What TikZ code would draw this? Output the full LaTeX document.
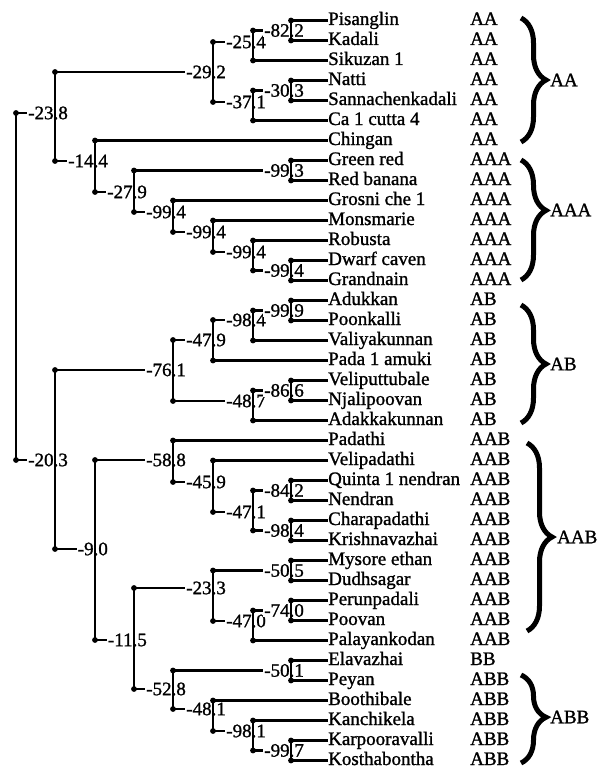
\documentclass[tikz,border=0pt]{standalone}
\usepackage{fontspec}
\setmainfont{Liberation Serif}
\newfontfamily\trserif{Liberation Serif}[FakeBold=1.2]
\usetikzlibrary{decorations.pathreplacing}
\newcommand{\TRnode}[4]{\coordinate (#1-t) at (#2,#3); \coordinate (#1-b) at (#2,#4);}
\newcommand{\TRlab}[4]{\node[lbl] (#1-l) at (#2 -| #1-t) {-#3\rlap{.#4}};}
\newcommand{\TRh}[2]{\draw[ln] (#1) -- (#1 -| #2-t);}
\newcommand{\TRleaf}[2]{\draw[ln] (#1) -- (#1 -| #2.west);}
\newcommand{\TRv}[1]{\draw[ln] (#1-t) -- (#1-b); \fill (#1-t) circle (2.9pt); \fill (#1-b) circle (2.9pt);}
\newcommand{\TRtip}[4]{\node[leaf] (#1) at (328,#2+4.5) {#3}; \node[geno] (#1-g) at (470,#2+4.5) {#4};}
\begin{document}
\begin{tikzpicture}[x=1pt,y=-1pt,
  txt/.style={font=\trserif\fontsize{19}{20}\selectfont},
  ln/.style={line width=2.7pt},
  lbl/.style={txt, anchor=east, inner xsep=1.2pt, inner ysep=0pt, fill=white},
  leaf/.style={txt, anchor=base west, inner sep=0pt},
  geno/.style={txt, anchor=base west, inner sep=0pt},
  grp/.style={txt, anchor=west, inner sep=0pt},
  brc/.style={line width=5pt, decorate}]
\fill[white] (0,0) rectangle (597,768);
\useasboundingbox (0,0) rectangle (597,768);
% internal nodes: name, x, ytop, ybottom
\TRnode{R}{16}{113}{460}
\TRnode{N238}{55}{72}{161}
\TRnode{N292}{213}{42}{102}
\TRnode{N254}{253}{30.5}{60.5}
\TRnode{N822}{291}{20.5}{40.5}
\TRnode{N371}{253}{90.5}{120.5}
\TRnode{N303}{291}{80.5}{100.5}
\TRnode{N144}{95}{140.5}{192}
\TRnode{N279}{134}{170.5}{212}
\TRnode{N993}{291}{160.5}{180.5}
\TRnode{N994a}{173}{200.5}{232}
\TRnode{N994b}{213}{220.5}{252}
\TRnode{N994c}{253}{240.5}{270.5}
\TRnode{N994d}{291}{260.5}{280.5}
\TRnode{N203}{55}{370}{549}
\TRnode{N761}{173}{340}{401}
\TRnode{N479}{213}{320}{360.5}
\TRnode{N984a}{253}{310.5}{340.5}
\TRnode{N999}{291}{300.5}{320.5}
\TRnode{N487}{253}{390.5}{420.5}
\TRnode{N866}{291}{380.5}{400.5}
\TRnode{N90}{95}{460}{640}
\TRnode{N588}{173}{440.5}{482}
\TRnode{N459}{213}{460.5}{512}
\TRnode{N471}{253}{490.5}{530.5}
\TRnode{N842}{291}{480.5}{500.5}
\TRnode{N984b}{291}{520.5}{540.5}
\TRnode{N115}{134}{588}{689}
\TRnode{N233}{213}{570.5}{621}
\TRnode{N505}{291}{560.5}{580.5}
\TRnode{N470}{253}{610.5}{640.5}
\TRnode{N740}{291}{600.5}{620.5}
\TRnode{N528}{173}{670.5}{709}
\TRnode{N501}{291}{660.5}{680.5}
\TRnode{N481}{213}{700.5}{731}
\TRnode{N981}{253}{720.5}{750.5}
\TRnode{N997}{291}{740.5}{760.5}
% leaves
\TRtip{L1}{20.5}{Pisanglin}{AA}
\TRtip{L2}{40.5}{Kadali}{AA}
\TRtip{L3}{60.5}{Sikuzan 1}{AA}
\TRtip{L4}{80.5}{Natti}{AA}
\TRtip{L5}{100.5}{Sannachenkadali}{AA}
\TRtip{L6}{120.5}{Ca 1 cutta 4}{AA}
\TRtip{L7}{140.5}{Chingan}{AA}
\TRtip{L8}{160.5}{Green red}{AAA}
\TRtip{L9}{180.5}{Red banana}{AAA}
\TRtip{L10}{200.5}{Grosni che 1}{AAA}
\TRtip{L11}{220.5}{Monsmarie}{AAA}
\TRtip{L12}{240.5}{Robusta}{AAA}
\TRtip{L13}{260.5}{Dwarf caven}{AAA}
\TRtip{L14}{280.5}{Grandnain}{AAA}
\TRtip{L15}{300.5}{Adukkan}{AB}
\TRtip{L16}{320.5}{Poonkalli}{AB}
\TRtip{L17}{340.5}{Valiyakunnan}{AB}
\TRtip{L18}{360.5}{Pada 1 amuki}{AB}
\TRtip{L19}{380.5}{Veliputtubale}{AB}
\TRtip{L20}{400.5}{Njalipoovan}{AB}
\TRtip{L21}{420.5}{Adakkakunnan}{AB}
\TRtip{L22}{440.5}{Padathi}{AAB}
\TRtip{L23}{460.5}{Velipadathi}{AAB}
\TRtip{L24}{480.5}{Quinta 1 nendran}{AAB}
\TRtip{L25}{500.5}{Nendran}{AAB}
\TRtip{L26}{520.5}{Charapadathi}{AAB}
\TRtip{L27}{540.5}{Krishnavazhai}{AAB}
\TRtip{L28}{560.5}{Mysore ethan}{AAB}
\TRtip{L29}{580.5}{Dudhsagar}{AAB}
\TRtip{L30}{600.5}{Perunpadali}{AAB}
\TRtip{L31}{620.5}{Poovan}{AAB}
\TRtip{L32}{640.5}{Palayankodan}{AAB}
\TRtip{L33}{660.5}{Elavazhai}{BB}
\TRtip{L34}{680.5}{Peyan}{ABB}
\TRtip{L35}{700.5}{Boothibale}{ABB}
\TRtip{L36}{720.5}{Kanchikela}{ABB}
\TRtip{L37}{740.5}{Karpooravalli}{ABB}
\TRtip{L38}{760.5}{Kosthabontha}{ABB}
% horizontal connectors to internal children
\TRh{R-t}{N238} \TRh{R-b}{N203}
\TRh{N238-t}{N292} \TRh{N238-b}{N144}
\TRh{N292-t}{N254} \TRh{N292-b}{N371}
\TRh{N254-t}{N822} \TRh{N371-t}{N303}
\TRh{N144-b}{N279} \TRh{N279-t}{N993} \TRh{N279-b}{N994a}
\TRh{N994a-b}{N994b} \TRh{N994b-b}{N994c} \TRh{N994c-b}{N994d}
\TRh{N203-t}{N761} \TRh{N203-b}{N90}
\TRh{N761-t}{N479} \TRh{N761-b}{N487}
\TRh{N479-t}{N984a} \TRh{N984a-t}{N999} \TRh{N487-t}{N866}
\TRh{N90-t}{N588} \TRh{N90-b}{N115}
\TRh{N588-b}{N459} \TRh{N459-b}{N471}
\TRh{N471-t}{N842} \TRh{N471-b}{N984b}
\TRh{N115-t}{N233} \TRh{N115-b}{N528}
\TRh{N233-t}{N505} \TRh{N233-b}{N470} \TRh{N470-t}{N740}
\TRh{N528-t}{N501} \TRh{N528-b}{N481}
\TRh{N481-b}{N981} \TRh{N981-b}{N997}
% horizontal connectors to leaves
\TRleaf{N822-t}{L1} \TRleaf{N822-b}{L2} \TRleaf{N254-b}{L3}
\TRleaf{N303-t}{L4} \TRleaf{N303-b}{L5} \TRleaf{N371-b}{L6}
\TRleaf{N144-t}{L7} \TRleaf{N993-t}{L8} \TRleaf{N993-b}{L9}
\TRleaf{N994a-t}{L10} \TRleaf{N994b-t}{L11} \TRleaf{N994c-t}{L12}
\TRleaf{N994d-t}{L13} \TRleaf{N994d-b}{L14}
\TRleaf{N999-t}{L15} \TRleaf{N999-b}{L16} \TRleaf{N984a-b}{L17}
\TRleaf{N479-b}{L18} \TRleaf{N866-t}{L19} \TRleaf{N866-b}{L20}
\TRleaf{N487-b}{L21} \TRleaf{N588-t}{L22} \TRleaf{N459-t}{L23}
\TRleaf{N842-t}{L24} \TRleaf{N842-b}{L25} \TRleaf{N984b-t}{L26}
\TRleaf{N984b-b}{L27} \TRleaf{N505-t}{L28} \TRleaf{N505-b}{L29}
\TRleaf{N740-t}{L30} \TRleaf{N740-b}{L31} \TRleaf{N470-b}{L32}
\TRleaf{N501-t}{L33} \TRleaf{N501-b}{L34} \TRleaf{N481-t}{L35}
\TRleaf{N981-t}{L36} \TRleaf{N997-t}{L37} \TRleaf{N997-b}{L38}
% node labels
\TRlab{N238}{R-t}{23}{8}
\TRlab{N203}{R-b}{20}{3}
\TRlab{N292}{N238-t}{29}{2}
\TRlab{N144}{N238-b}{14}{4}
\TRlab{N254}{N292-t}{25}{4}
\TRlab{N371}{N292-b}{37}{1}
\TRlab{N822}{N254-t}{82}{2}
\TRlab{N303}{N371-t}{30}{3}
\TRlab{N279}{N144-b}{27}{9}
\TRlab{N993}{N279-t}{99}{3}
\TRlab{N994a}{N279-b}{99}{4}
\TRlab{N994b}{N994a-b}{99}{4}
\TRlab{N994c}{N994b-b}{99}{4}
\TRlab{N994d}{N994c-b}{99}{4}
\TRlab{N761}{N203-t}{76}{1}
\TRlab{N90}{N203-b}{9}{0}
\TRlab{N479}{N761-t}{47}{9}
\TRlab{N487}{N761-b}{48}{7}
\TRlab{N984a}{N479-t}{98}{4}
\TRlab{N999}{N984a-t}{99}{9}
\TRlab{N866}{N487-t}{86}{6}
\TRlab{N588}{N90-t}{58}{8}
\TRlab{N115}{N90-b}{11}{5}
\TRlab{N459}{N588-b}{45}{9}
\TRlab{N471}{N459-b}{47}{1}
\TRlab{N842}{N471-t}{84}{2}
\TRlab{N984b}{N471-b}{98}{4}
\TRlab{N233}{N115-t}{23}{3}
\TRlab{N528}{N115-b}{52}{8}
\TRlab{N505}{N233-t}{50}{5}
\TRlab{N470}{N233-b}{47}{0}
\TRlab{N740}{N470-t}{74}{0}
\TRlab{N501}{N528-t}{50}{1}
\TRlab{N481}{N528-b}{48}{1}
\TRlab{N981}{N481-b}{98}{1}
\TRlab{N997}{N981-b}{99}{7}
% verticals and dots
\foreach \n in {R,N238,N292,N254,N822,N371,N303,N144,N279,N993,N994a,N994b,N994c,N994d,
  N203,N761,N479,N984a,N999,N487,N866,N90,N588,N459,N471,N842,N984b,N115,N233,N505,N470,N740,
  N528,N501,N481,N981,N997} {\TRv{\n}}
% braces and group labels
\coordinate (bAAt) at (521,18);   \coordinate (bAAb) at (521,142);
\coordinate (bAAAt) at (521,160); \coordinate (bAAAb) at (521,280);
\coordinate (bABt) at (521,305);  \coordinate (bABb) at (521,423);
\coordinate (bAABt) at (527,443); \coordinate (bAABb) at (527,631);
\coordinate (bABBt) at (521,675); \coordinate (bABBb) at (521,763);
\draw[brc, decoration={brace, amplitude=25pt, aspect=0.5}] (bAAt) -- (bAAb);
\draw[brc, decoration={brace, amplitude=25pt, aspect=0.42}] (bAAAt) -- (bAAAb);
\draw[brc, decoration={brace, amplitude=25pt, aspect=0.5}] (bABt) -- (bABb);
\draw[brc, decoration={brace, amplitude=25pt, aspect=0.5}] (bAABt) -- (bAABb);
\draw[brc, decoration={brace, amplitude=25pt, aspect=0.48}] (bABBt) -- (bABBb);
\node[grp] (gAA) at (550,80) {AA};
\node[grp] (gAAA) at (550,210) {AAA};
\node[grp] (gAB) at (550,364) {AB};
\node[grp] (gAAB) at (557,537) {AAB};
\node[grp] (gABB) at (550,717) {ABB};
\end{tikzpicture}
\end{document}
